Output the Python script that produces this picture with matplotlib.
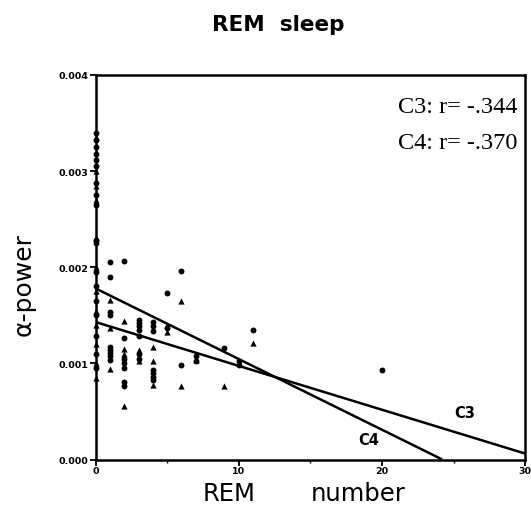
import numpy as np
import matplotlib
matplotlib.use("Agg")
import matplotlib.pyplot as plt

# ---- data ----
# circles (C3 electrode) and triangles (C4 electrode): REM number vs alpha power
circle_x = [0]*18 + [1, 1, 1, 1, 1, 1, 1, 1, 1,
                     2, 2, 2, 2, 2, 2, 2,
                     3, 3, 3, 3, 3, 3, 3,
                     4, 4, 4, 4, 4, 4, 4,
                     5, 5, 6, 6, 7, 7, 9, 10, 10, 11, 20]
circle_y = [0.00340, 0.00332, 0.00325, 0.00318, 0.00312, 0.00305, 0.00288, 0.00275,
            0.00265, 0.00228, 0.00225, 0.00195, 0.00180, 0.00165, 0.00150, 0.00128,
            0.00110, 0.00095,
            0.00205, 0.00190, 0.00153, 0.00150, 0.00117, 0.00114, 0.00111, 0.00108, 0.00104,
            0.00207, 0.00126, 0.00105, 0.00100, 0.00095, 0.00081, 0.00076,
            0.00145, 0.00142, 0.00139, 0.00135, 0.00128, 0.00110, 0.00105,
            0.00143, 0.00139, 0.00134, 0.00093, 0.00090, 0.00086, 0.00083,
            0.00173, 0.00137, 0.00196, 0.00098, 0.00108, 0.00103, 0.00116, 0.00103, 0.00098,
            0.00135, 0.00093]
tri_x = [0]*12 + [1, 1, 1, 2, 2, 2, 2, 3, 3, 4, 4, 4, 5, 5, 6, 6, 7, 9, 10, 11]
tri_y = [0.00335, 0.00300, 0.00285, 0.00270, 0.00230, 0.00200, 0.00175, 0.00155,
         0.00140, 0.00120, 0.00100, 0.00085,
         0.00166, 0.00137, 0.00094,
         0.00144, 0.00115, 0.00110, 0.00056,
         0.00114, 0.00102,
         0.00117, 0.00103, 0.00078,
         0.00140, 0.00133,
         0.00165, 0.00077, 0.00104, 0.00076, 0.00100, 0.00121]

# regression lines (intercept, slope)
c3_fit = [0.00143, -0.0000456]
c4_fit = [0.00178, -0.0000735]
c3_range = [0, 30]
c4_range = [0, 24.2]

x_ticks = [0, 10, 20, 30]
y_ticks = [0.000, 0.001, 0.002, 0.003, 0.004]
y_ticklabels = ["0.000", "0.001", "0.002", "0.003", "0.004"]

# ---- figure ----
fig = plt.figure(figsize=(5.31, 5.10), dpi=100)
ax = fig.add_axes([0.180, 0.097, 0.809, 0.754])

ax.scatter(circle_x, circle_y, marker="o", s=18, color="black", linewidths=0,
           clip_on=False, zorder=3)
ax.scatter(tri_x, tri_y, marker="^", s=20, color="black", linewidths=0,
           clip_on=False, zorder=3)

for fit, rng in ((c3_fit, c3_range), (c4_fit, c4_range)):
    xs = np.array(rng, dtype=float)
    ax.plot(xs, fit[0] + fit[1] * xs, color="black", lw=1.8, solid_capstyle="butt")

ax.set_xlim(0, 30)
ax.set_ylim(0, 0.004)
ax.set_xticks(x_ticks)
ax.set_xticks([5, 15, 25], minor=True)
ax.set_yticks(y_ticks)
ax.set_yticklabels(y_ticklabels)
ax.tick_params(axis="both", which="major", direction="out", length=4, width=1.3,
               labelsize=6.8, pad=1)
ax.tick_params(axis="both", which="minor", direction="out", length=2, width=1.0)
for lab in ax.get_xticklabels() + ax.get_yticklabels():
    lab.set_fontweight("bold")
for sp in ax.spines.values():
    sp.set_linewidth(1.8)

# axis labels (placed as figure text to match the reference spacing)
fig.text(229 / 531, 1 - 501 / 510, "REM", fontsize=17.5, family="DejaVu Sans",
         ha="center", va="baseline")
fig.text(358.5 / 531, 1 - 501 / 510, "number", fontsize=17.5, family="DejaVu Sans",
         ha="center", va="baseline")
fig.text(24 / 531, 1 - 284.5 / 510, "α-power", fontsize=18, family="DejaVu Sans",
         rotation=90, ha="center", va="center")

fig.text(278 / 531, 1 - 31 / 510, "REM  sleep", fontsize=15.5, fontweight="bold",
         family="DejaVu Sans", ha="center", va="baseline")

ax.text(0.703, 0.905, "C3: r= -.344", transform=ax.transAxes, fontsize=17.5,
        family="Liberation Serif", ha="left", va="baseline")
ax.text(0.703, 0.810, "C4: r= -.370", transform=ax.transAxes, fontsize=17.5,
        family="Liberation Serif", ha="left", va="baseline")

ax.text(25.8, 0.00049, "C3", fontsize=10.5, fontweight="bold", family="DejaVu Sans",
        ha="center", va="center")
ax.text(19.1, 0.00021, "C4", fontsize=10.5, fontweight="bold", family="DejaVu Sans",
        ha="center", va="center")

fig.savefig("out.png", dpi=100)
